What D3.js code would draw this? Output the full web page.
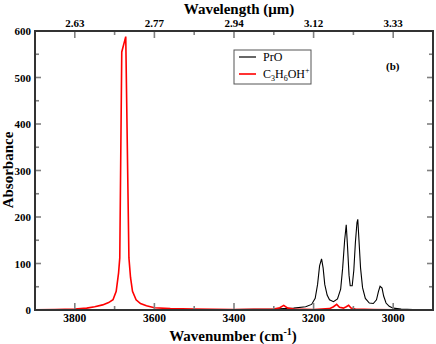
<!DOCTYPE html>
<html><head><meta charset="utf-8">
<script src="https://cdn.jsdelivr.net/npm/d3@7"></script>
<style>body{margin:0;background:#fff}svg{display:block}</style>
</head><body>
<script>
const wavenumberTicks = [3800, 3600, 3400, 3200, 3000];
const wavelengthLabels = ["2.63", "2.77", "2.94", "3.12", "3.33"];
const absorbanceTicks = [0, 100, 200, 300, 400, 500, 600];
const seriesNames = ["PrO", "C3H6OH+"];
const seriesColors = ["#000000", "#ff0000"];

const proWavenumber = [3900,3400,3300,3250,3220,3205,3196,3190,3185,3180,3176,3172,3166,3160,3150,3140,3132,3127,3122,3118,3115,3111,3108,3103,3099,3095,3091,3089,3086,3082,3077,3070,3060,3050,3042,3037,3033,3028,3024,3018,3010,3000,2980,2950,2900];
const proAbsorb   = [0,1,2,4,7,12,25,55,95,110,90,55,32,22,18,24,45,90,150,183,140,75,52,52,85,145,188,195,150,90,48,25,15,14,22,40,51,47,30,15,8,4,2,1,0];

const cationWavenumber = [3900,3850,3800,3770,3750,3730,3715,3704,3696,3690,3687,3682,3672,3664,3660,3655,3646,3635,3620,3600,3560,3500,3400,3300,3285,3275,3265,3250,3200,3160,3150,3142,3135,3125,3118,3112,3106,3095,3050,3000,2900];
const cationAbsorb   = [0.5,1,2,4,7,11,16,22,40,80,112,555,588,112,70,40,22,14,9,5,3,2,1,2,5,10,4,2,1,3,7,12,6,4,7,10,4,2,1,0.5,0];

const FONT = "'Liberation Serif', 'DejaVu Serif', 'Times New Roman', serif";
const W = 436, H = 344;
const m = {left: 35, right: 3, top: 31, bottom: 34};
const svg = d3.select("body").append("svg").attr("width", W).attr("height", H)
  .attr("font-family", FONT).style("font-family", FONT);
const x = d3.scaleLinear().domain([3900, 2900]).range([m.left, W - m.right]);
const y = d3.scaleLinear().domain([0, 600]).range([H - m.bottom, m.top]);

svg.append("clipPath").attr("id","clip").append("rect")
  .attr("x", m.left).attr("y", m.top).attr("width", W-m.left-m.right).attr("height", H-m.top-m.bottom);

const line = d3.line().x(d => x(d[0])).y(d => y(d[1]));
const g = svg.append("g").attr("clip-path","url(#clip)");
g.append("path").datum(d3.zip(proWavenumber, proAbsorb)).attr("d", line)
  .attr("fill","none").attr("stroke", seriesColors[0]).attr("stroke-width",1.1);
g.append("path").datum(d3.zip(cationWavenumber, cationAbsorb)).attr("d", line)
  .attr("fill","none").attr("stroke", seriesColors[1]).attr("stroke-width",1.6);

const tickColor = "#808080";
const minorX = d3.range(3900, 2899, -100).filter(v => !wavenumberTicks.includes(v));
const minorY = d3.range(50, 600, 100);
const x0 = m.left, x1 = W - m.right, y0 = H - m.bottom, y1 = m.top;
const tg = svg.append("g").attr("stroke", tickColor).attr("stroke-width", 1.6);
function xt(v, len){ tg.append("line").attr("x1",x(v)).attr("x2",x(v)).attr("y1",y0).attr("y2",y0-len);
  tg.append("line").attr("x1",x(v)).attr("x2",x(v)).attr("y1",y1).attr("y2",y1+len); }
function yt(v, len){ tg.append("line").attr("y1",y(v)).attr("y2",y(v)).attr("x1",x0).attr("x2",x0+len);
  tg.append("line").attr("y1",y(v)).attr("y2",y(v)).attr("x1",x1).attr("x2",x1-len); }
wavenumberTicks.forEach(v => xt(v, 7));
minorX.forEach(v => xt(v, 4));
absorbanceTicks.forEach(v => yt(v, 6));
minorY.forEach(v => yt(v, 4));

svg.append("rect").attr("x", x0).attr("y", y1).attr("width", x1-x0).attr("height", y0-y1)
  .attr("fill","none").attr("stroke","#333").attr("stroke-width",2);

const lab = svg.append("g").attr("font-weight","bold").attr("fill","#000");
wavenumberTicks.forEach(v => lab.append("text").attr("x", x(v)).attr("y", y0+12).attr("font-size",11.5).attr("text-anchor","middle").text(v));
wavenumberTicks.forEach((v,i) => lab.append("text").attr("x", x(v)).attr("y", y1-4).attr("font-size",11).attr("text-anchor","middle").text(wavelengthLabels[i]));
absorbanceTicks.forEach(v => lab.append("text").attr("x", x0-4).attr("y", y(v)+4).attr("font-size",11).attr("text-anchor","end").text(v));

svg.append("text").attr("x", 239).attr("y", 14).attr("text-anchor","middle")
  .attr("font-weight","bold").attr("font-size",15).text("Wavelength (μm)");
const t2 = svg.append("text").attr("x", 233).attr("y", 341).attr("text-anchor","middle")
  .attr("font-weight","bold").attr("font-size",15);
t2.append("tspan").text("Wavenumber (cm");
t2.append("tspan").attr("dy",-6).attr("font-size",10).text("-1");
t2.append("tspan").attr("dy",6).text(")");
svg.append("text").attr("transform","translate(13,170) rotate(-90)").attr("text-anchor","middle")
  .attr("font-weight","bold").attr("font-size",15).text("Absorbance");

const lg = svg.append("g");
lg.append("rect").attr("x",234).attr("y",50).attr("width",77).attr("height",34)
  .attr("fill","#fff").attr("stroke","#555").attr("stroke-width",1);
lg.append("line").attr("x1",239).attr("x2",256).attr("y1",57).attr("y2",57).attr("stroke",seriesColors[0]).attr("stroke-width",1.2);
lg.append("line").attr("x1",239).attr("x2",256).attr("y1",74).attr("y2",74).attr("stroke",seriesColors[1]).attr("stroke-width",1.6);
lg.append("text").attr("x",263).attr("y",61).attr("font-size",12).text(seriesNames[0]);
const ct = lg.append("text").attr("x",263).attr("y",78).attr("font-size",12);
ct.append("tspan").text("C");
ct.append("tspan").attr("dy",3).attr("font-size",8).text("3");
ct.append("tspan").attr("dy",-3).text("H");
ct.append("tspan").attr("dy",3).attr("font-size",8).text("6");
ct.append("tspan").attr("dy",-3).text("OH");
ct.append("tspan").attr("dy",-5).attr("font-size",8).text("+");

svg.append("text").attr("x",386).attr("y",70).attr("font-size",11).attr("font-weight","bold").text("(b)");
</script>
</body></html>
